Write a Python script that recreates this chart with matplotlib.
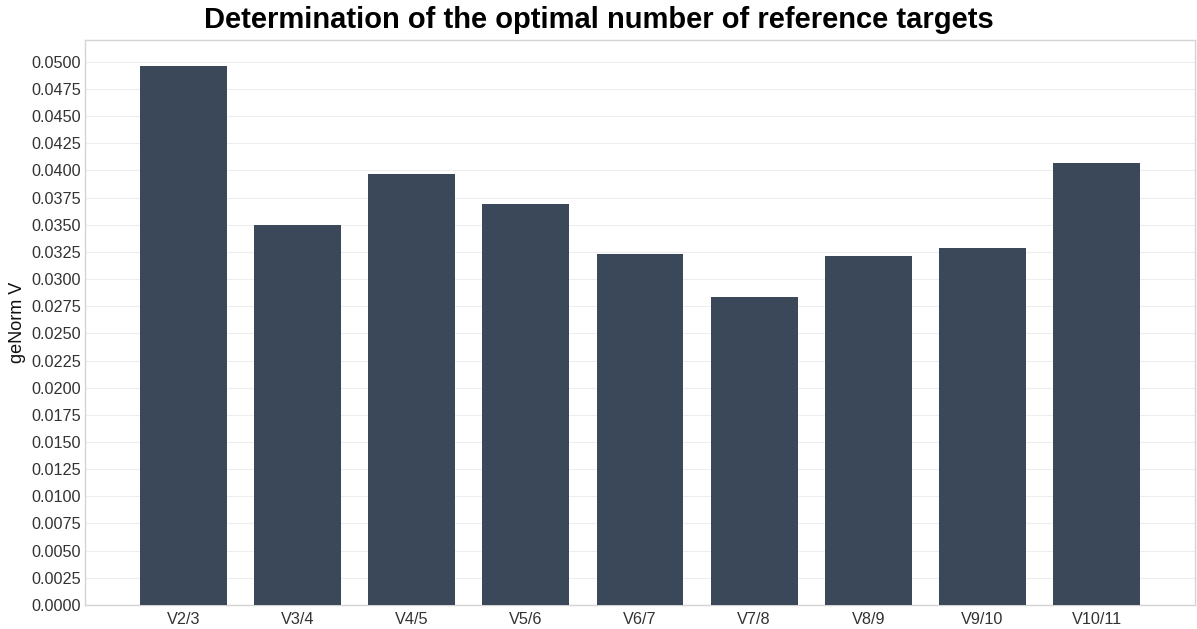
import matplotlib
matplotlib.use('Agg')
import matplotlib.pyplot as plt
import numpy as np

plt.rcParams['font.family'] = ['Liberation Sans', 'DejaVu Sans']

categories = ['V2/3', 'V3/4', 'V4/5', 'V5/6', 'V6/7', 'V7/8', 'V8/9', 'V9/10', 'V10/11']
values = [0.0496, 0.0350, 0.0397, 0.0369, 0.0323, 0.0283, 0.0321, 0.0329, 0.0407]
yticks = np.arange(0, 0.05001, 0.0025)

fig = plt.figure(figsize=(11.97, 6.29), dpi=100)
ax = fig.add_axes([0.0710, 0.0382, 0.9273, 0.8982])

x = np.arange(len(categories))
ax.bar(x, values, width=0.76, color='#3a4859', zorder=3)

ax.set_xlim(-0.86, 8.86)
ax.set_ylim(0, 0.0520)
ax.set_yticks(yticks)
ax.set_yticklabels(['{:.4f}'.format(v) for v in yticks])
ax.set_xticks(x)
ax.set_xticklabels(categories)
ax.tick_params(axis='both', length=0, labelsize=11.7, colors='#333333')
ax.tick_params(axis='y', pad=3)
ax.tick_params(axis='x', pad=5)

ax.grid(axis='y', color='#eeeeee', linewidth=0.8, zorder=0)
for s in ax.spines.values():
    s.set_color('#d4d4d4')
    s.set_linewidth(1)

ax.set_ylabel('geNorm V', fontsize=13, color='#111111', labelpad=4)
fig.suptitle('Determination of the optimal number of reference targets',
             fontsize=21, fontweight='bold', y=0.99)

plt.savefig('out.png', dpi=100)
plt.close()
